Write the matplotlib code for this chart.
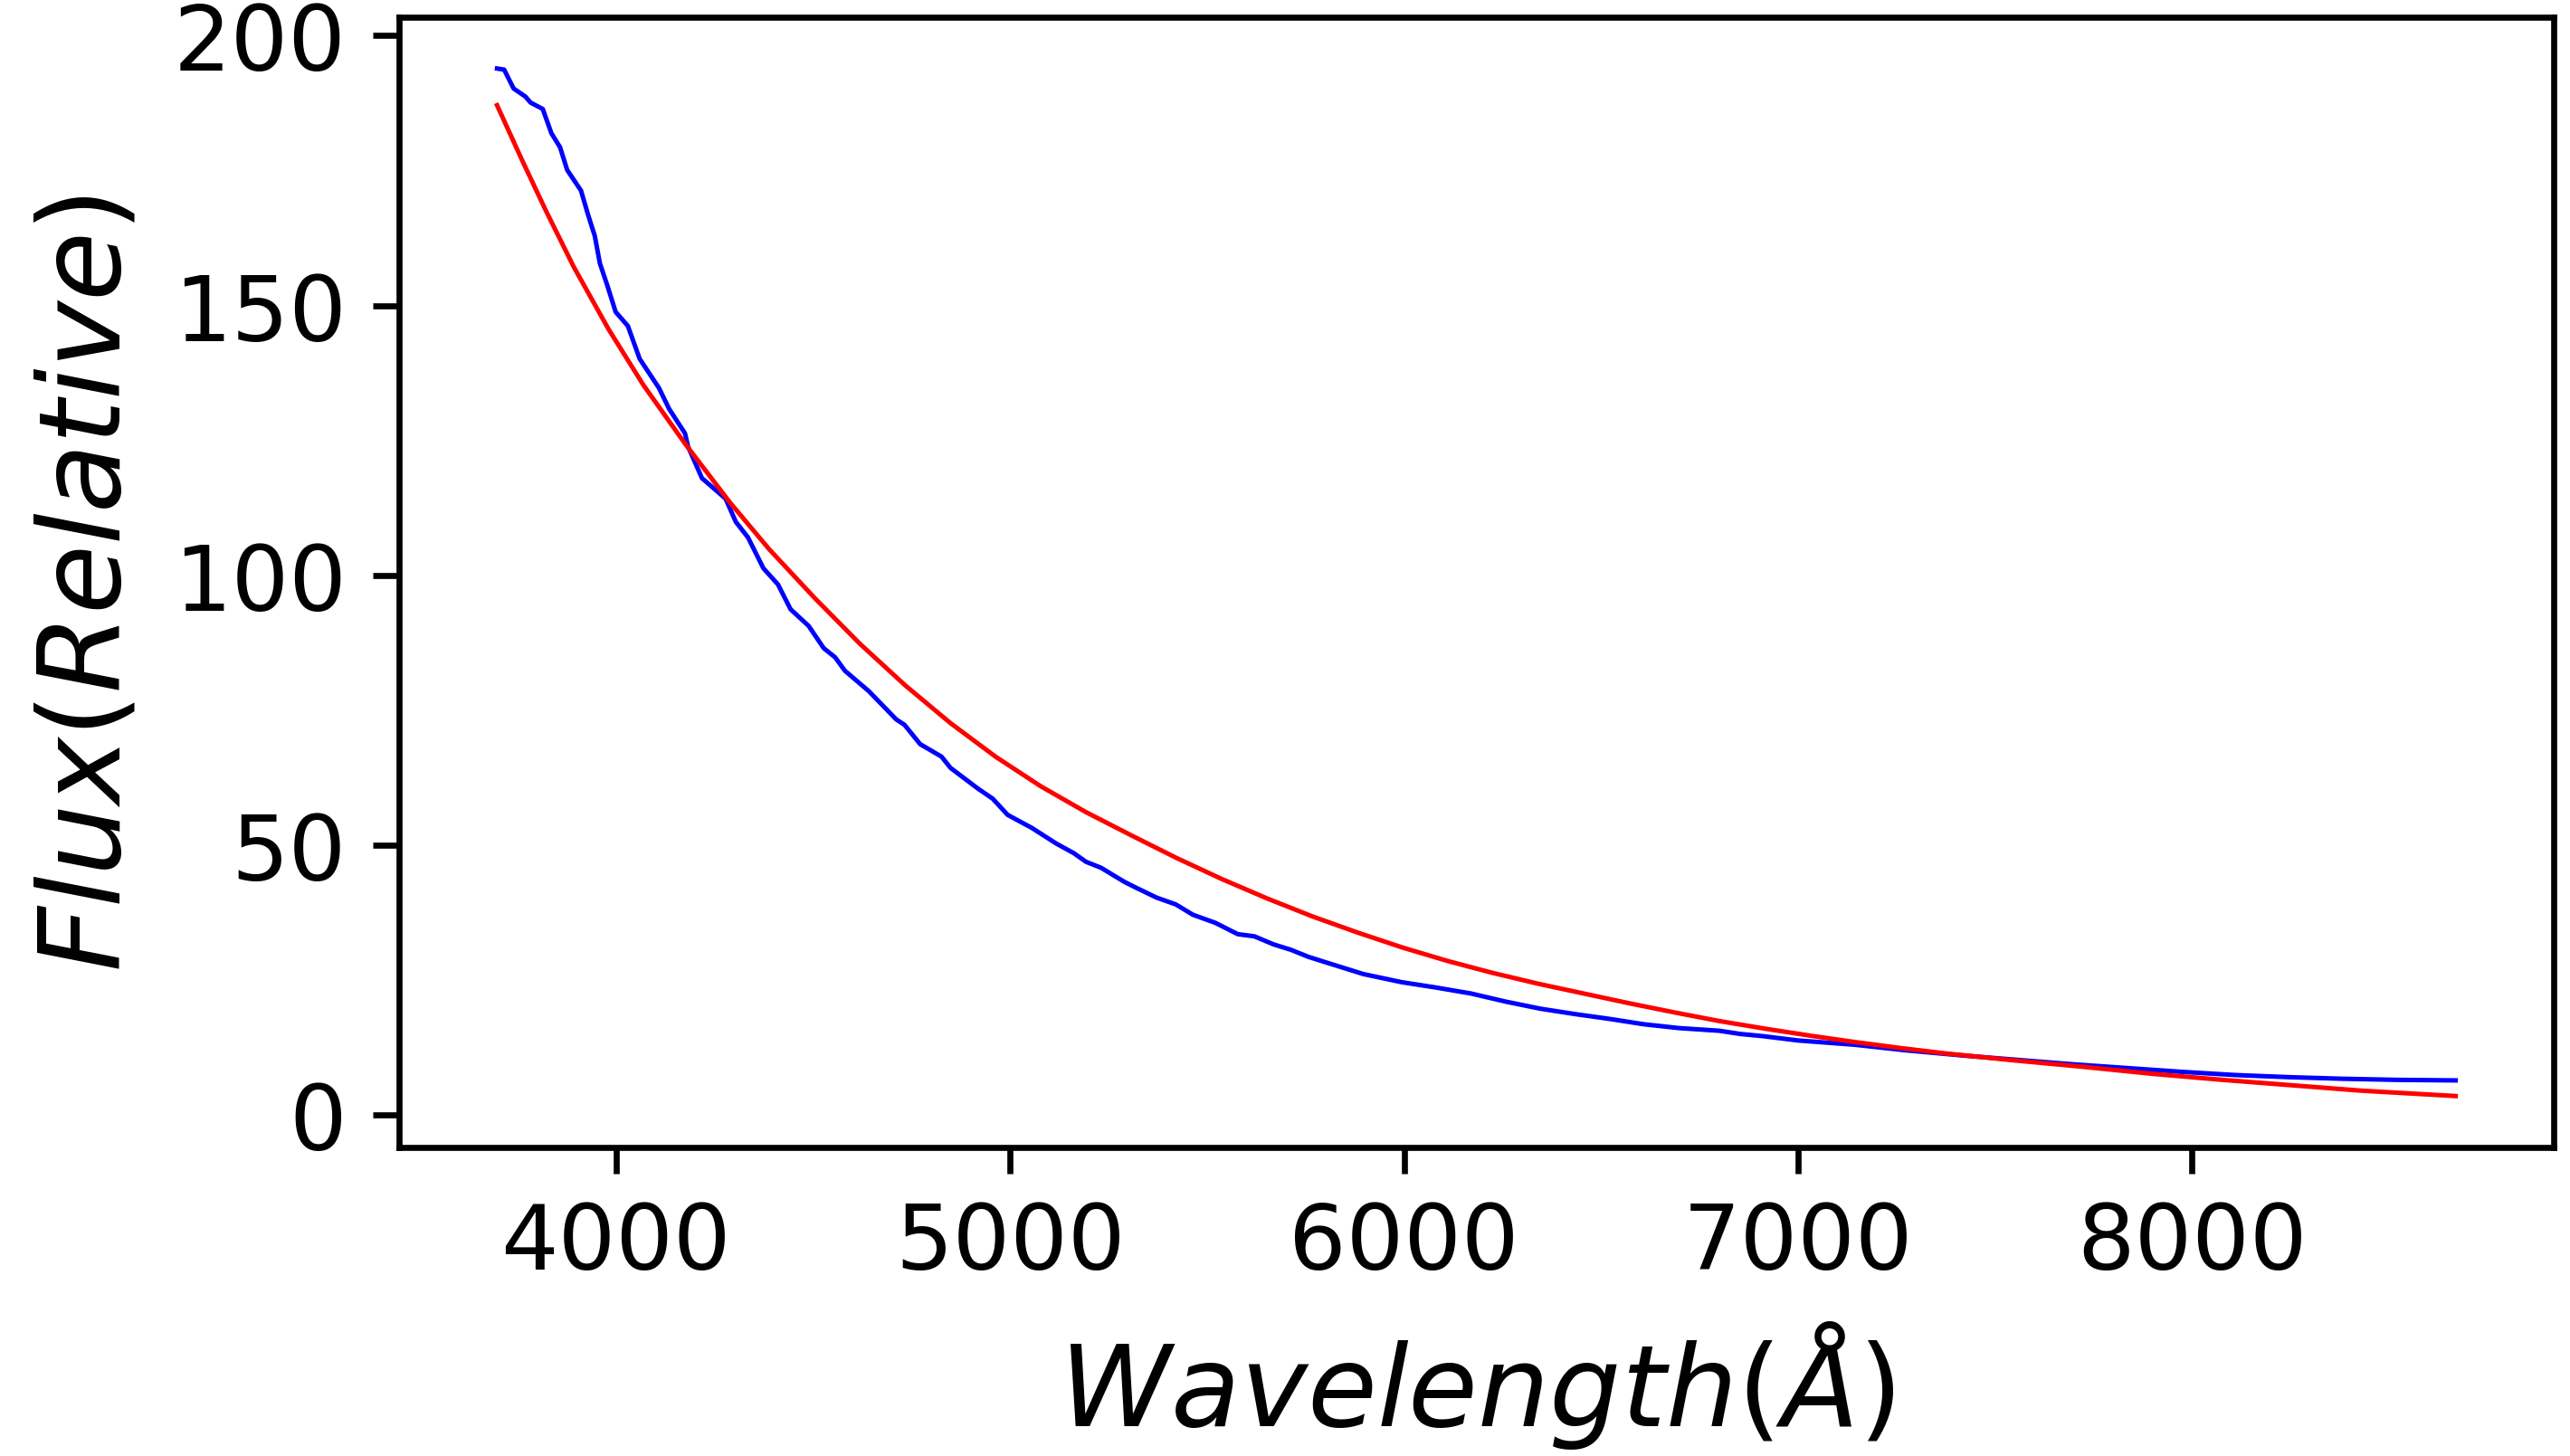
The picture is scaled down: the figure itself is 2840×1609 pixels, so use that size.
import matplotlib
matplotlib.use("Agg")
import matplotlib.pyplot as plt

# Observed spectrum (blue)
obs_wave = [3698, 3716, 3740, 3770, 3783, 3814, 3836, 3858, 3876, 3911, 3929, 3946, 3959,
            3977, 3999, 4030, 4060, 4109, 4135, 4175, 4183, 4218, 4278, 4304, 4335, 4374,
            4411, 4443, 4489, 4527, 4556, 4581, 4642, 4711, 4732, 4772, 4826, 4849, 4918,
            4956, 4994, 5055, 5117, 5162, 5193, 5231, 5290, 5320, 5371, 5421, 5464, 5521,
            5578, 5620, 5669, 5713, 5757, 5818, 5897, 5994, 6082, 6170, 6258, 6345, 6433,
            6521, 6609, 6697, 6800, 6854, 6911, 7000, 7145, 7270, 7420, 7558, 7695, 7833,
            7971, 8108, 8246, 8384, 8521, 8669]
obs_flux = [193.9, 193.7, 190.2, 188.7, 187.6, 186.4, 181.9, 179.3, 175.1, 171.3, 166.8, 162.9, 157.8,
            153.9, 148.8, 146.2, 140.1, 134.7, 130.8, 126.3, 123.8, 118.0, 114.2, 109.9, 107.0, 101.3,
            98.3, 93.7, 90.6, 86.5, 84.8, 82.3, 78.5, 73.3, 72.3, 68.7, 66.4, 64.3, 60.5,
            58.6, 55.6, 53.2, 50.3, 48.5, 46.9, 45.8, 43.2, 42.1, 40.3, 39.0, 37.1, 35.6,
            33.5, 33.1, 31.6, 30.6, 29.3, 27.9, 26.1, 24.6, 23.6, 22.5, 21.0, 19.7, 18.7,
            17.8, 16.8, 16.1, 15.6, 15.0, 14.6, 13.8, 13.0, 12.0, 11.0, 10.2, 9.4, 8.7,
            8.0, 7.4, 7.0, 6.7, 6.5, 6.4]

# Fitted curve (red)
fit_wave = [3698, 3761, 3823, 3893, 3981, 4069, 4175, 4289, 4389, 4504, 4619, 4734, 4849,
            4963, 5078, 5193, 5308, 5423, 5538, 5653, 5767, 5882, 5997, 6112, 6226, 6341,
            6456, 6571, 6686, 6800, 6915, 7030, 7145, 7260, 7374, 7550, 7726, 7902, 8077,
            8253, 8429, 8669]
fit_flux = [187.1, 177.0, 167.4, 157.1, 145.6, 135.3, 124.4, 113.5, 104.8, 95.8, 87.3, 79.6, 72.6,
            66.4, 60.9, 56.1, 51.8, 47.6, 43.7, 40.1, 36.8, 33.8, 31.0, 28.5, 26.3, 24.3,
            22.5, 20.7, 19.0, 17.4, 16.0, 14.7, 13.5, 12.4, 11.4, 10.1, 8.9, 7.6, 6.5,
            5.5, 4.5, 3.5]

x_ticks = [4000, 5000, 6000, 7000, 8000]
y_ticks = [0, 50, 100, 150, 200]

fig = plt.figure(figsize=(2840 / 600, 1610 / 600), dpi=600)
ax = fig.add_axes([0.1553, 0.2118, 0.9936 - 0.1553, 0.9876 - 0.2118])

ax.plot(obs_wave, obs_flux, color="blue", linewidth=0.6)
ax.plot(fit_wave, fit_flux, color="red", linewidth=0.6)

ax.set_xticks(x_ticks)
ax.set_yticks(y_ticks)
ax.tick_params(labelsize=12)
ax.set_xlabel(r"$Wavelength(\AA)$", fontsize=15)
ax.set_ylabel(r"$Flux(Relative)$", fontsize=15)

fig.savefig("out.png", dpi=600)
